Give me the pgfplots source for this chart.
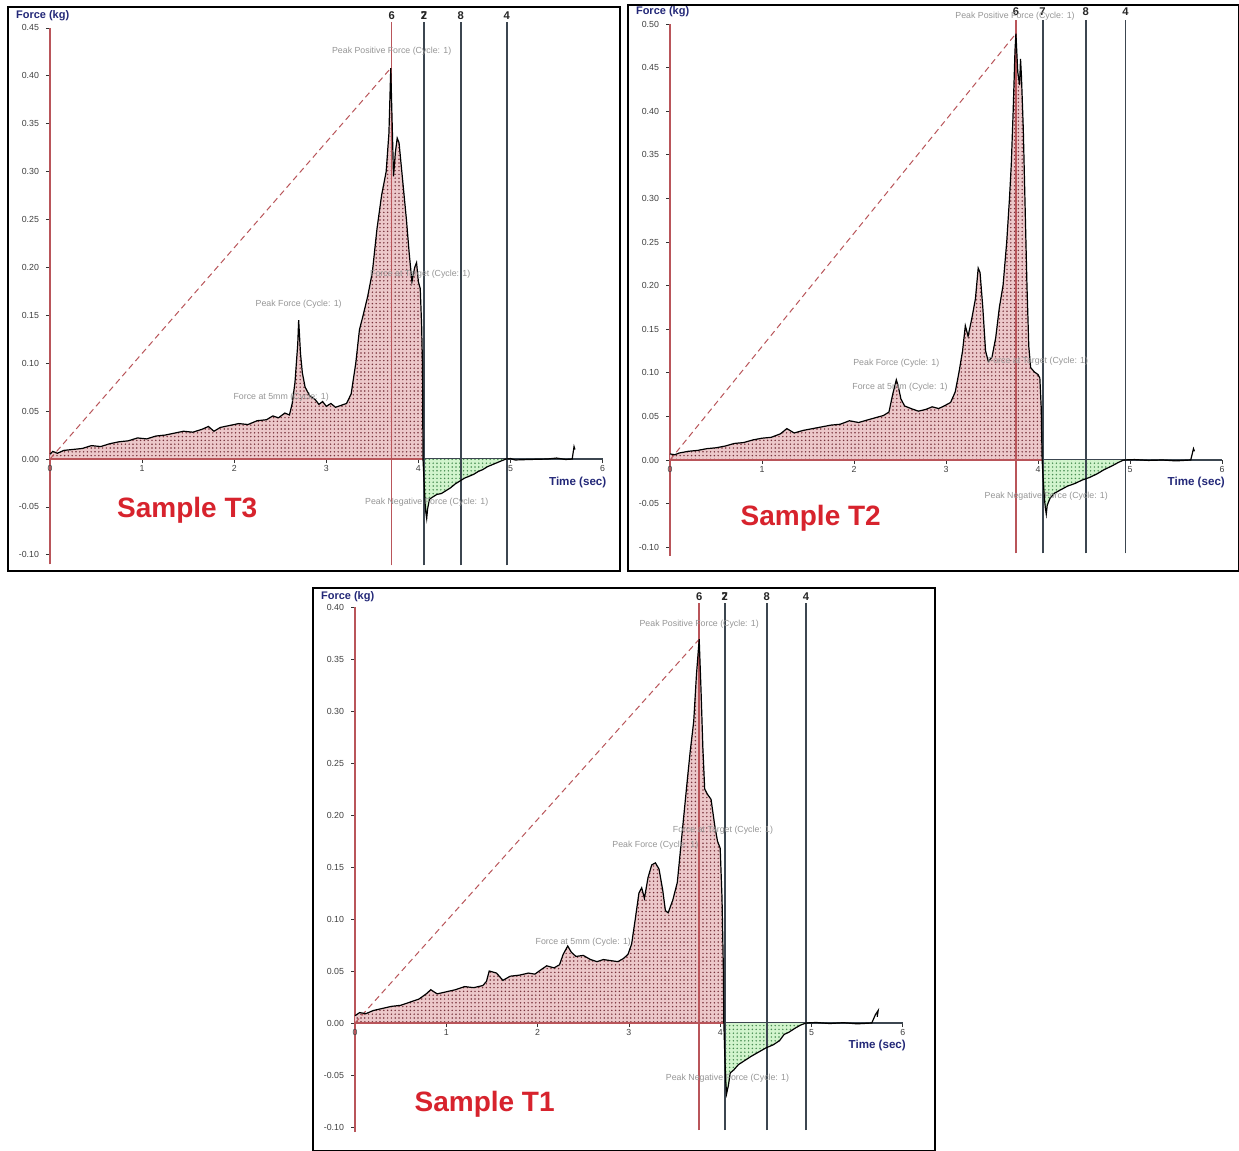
\documentclass[border=0pt]{standalone}
\usepackage{fontspec}
\setmainfont{Liberation Sans}
\usepackage{pgfplots}
\pgfplotsset{compat=1.18}
\usepackage{pgfplotstable}
\usetikzlibrary{patterns.meta}

\definecolor{pinkfill}{RGB}{236,200,202}
\definecolor{pinkdot}{RGB}{120,50,60}
\definecolor{greenfill}{RGB}{210,244,205}
\definecolor{greendot}{RGB}{70,140,80}
\definecolor{axred}{RGB}{185,85,90}
\definecolor{cursor}{RGB}{60,70,80}
\definecolor{annot}{RGB}{150,150,150}
\definecolor{navy}{RGB}{35,40,120}
\definecolor{samplered}{RGB}{215,35,45}

% ---------- Sample T3 ----------
\pgfplotstableread{
x y
0 0.005
0.03 0.008
0.08 0.006
0.15 0.009
0.25 0.010
0.35 0.011
0.45 0.014
0.55 0.013
0.65 0.016
0.75 0.018
0.85 0.019
0.95 0.022
1.05 0.021
1.15 0.024
1.25 0.025
1.35 0.027
1.45 0.029
1.55 0.028
1.65 0.031
1.72 0.034
1.78 0.029
1.85 0.033
1.95 0.035
2.05 0.037
2.15 0.036
2.25 0.040
2.35 0.041
2.42 0.045
2.48 0.043
2.55 0.048
2.60 0.046
2.63 0.058
2.66 0.080
2.69 0.120
2.70 0.145
2.72 0.110
2.74 0.090
2.77 0.075
2.82 0.066
2.88 0.062
2.92 0.057
2.96 0.060
3.00 0.055
3.05 0.058
3.10 0.054
3.16 0.056
3.22 0.058
3.27 0.068
3.32 0.100
3.36 0.135
3.40 0.150
3.45 0.170
3.50 0.195
3.55 0.240
3.60 0.275
3.65 0.300
3.68 0.340
3.70 0.408
3.71 0.370
3.73 0.295
3.75 0.320
3.77 0.335
3.79 0.330
3.83 0.290
3.87 0.250
3.90 0.215
3.93 0.185
3.96 0.200
3.98 0.205
4.00 0.185
4.02 0.178
4.035 0.140
4.045 0.095
4.05 0.0
}\posA
\pgfplotstableread{
x y
4.05 0
4.06 -0.020
4.07 -0.040
4.08 -0.055
4.09 -0.062
4.10 -0.052
4.12 -0.042
4.15 -0.040
4.20 -0.037
4.25 -0.036
4.30 -0.033
4.35 -0.030
4.40 -0.026
4.45 -0.023
4.50 -0.020
4.55 -0.018
4.60 -0.016
4.65 -0.013
4.70 -0.011
4.75 -0.008
4.80 -0.006
4.85 -0.004
4.90 -0.002
4.95 0.0
}\negA
\pgfplotstableread{
x y
4.95 0
5.00 0.0005
5.05 -0.001
5.20 -0.0005
5.40 0.0
5.50 0.001
5.60 -0.0005
5.67 0
5.69 0.013
5.70 0.010
}\tailA

% ---------- Sample T2 ----------
\pgfplotstableread{
x y
0 0.007
0.05 0.006
0.10 0.008
0.2 0.010
0.3 0.011
0.4 0.013
0.5 0.014
0.6 0.016
0.7 0.019
0.8 0.020
0.9 0.023
1.0 0.025
1.1 0.026
1.2 0.030
1.27 0.036
1.35 0.031
1.45 0.034
1.55 0.036
1.65 0.038
1.75 0.040
1.85 0.041
1.95 0.045
2.05 0.043
2.15 0.046
2.25 0.049
2.32 0.051
2.38 0.055
2.42 0.075
2.46 0.092
2.48 0.085
2.51 0.070
2.55 0.062
2.62 0.059
2.70 0.056
2.78 0.058
2.85 0.061
2.92 0.059
2.98 0.062
3.05 0.066
3.10 0.078
3.14 0.100
3.18 0.125
3.21 0.154
3.24 0.142
3.28 0.162
3.32 0.185
3.35 0.220
3.37 0.215
3.40 0.175
3.43 0.125
3.46 0.113
3.50 0.118
3.54 0.140
3.58 0.175
3.62 0.200
3.66 0.250
3.69 0.300
3.71 0.340
3.73 0.400
3.75 0.470
3.76 0.489
3.78 0.445
3.80 0.430
3.81 0.460
3.82 0.440
3.84 0.380
3.86 0.290
3.88 0.200
3.90 0.130
3.92 0.106
3.96 0.101
4.00 0.098
4.02 0.094
4.035 0.060
4.045 0.0
}\posB
\pgfplotstableread{
x y
4.045 0
4.055 -0.020
4.07 -0.045
4.08 -0.055
4.09 -0.062
4.10 -0.052
4.13 -0.044
4.18 -0.038
4.25 -0.034
4.32 -0.030
4.40 -0.027
4.48 -0.023
4.56 -0.020
4.64 -0.016
4.72 -0.011
4.80 -0.007
4.87 -0.003
4.93 0
}\negB
\pgfplotstableread{
x y
4.93 0
5.05 0.0005
5.20 -0.0005
5.35 0.0
5.50 -0.001
5.66 0
5.69 0.013
5.70 0.010
}\tailB

% ---------- Sample T1 ----------
\pgfplotstableread{
x y
0 0.007
0.05 0.010
0.12 0.009
0.2 0.012
0.3 0.014
0.4 0.016
0.5 0.017
0.6 0.020
0.7 0.023
0.78 0.028
0.83 0.032
0.9 0.028
1.0 0.030
1.1 0.032
1.2 0.035
1.3 0.034
1.4 0.036
1.44 0.040
1.47 0.050
1.55 0.048
1.62 0.041
1.70 0.045
1.80 0.046
1.90 0.048
1.97 0.047
2.05 0.052
2.10 0.055
2.18 0.053
2.24 0.056
2.28 0.066
2.33 0.074
2.37 0.068
2.42 0.064
2.50 0.065
2.58 0.061
2.65 0.059
2.72 0.061
2.80 0.060
2.88 0.059
2.94 0.062
2.99 0.066
3.03 0.076
3.07 0.100
3.11 0.125
3.14 0.130
3.17 0.120
3.21 0.140
3.25 0.152
3.29 0.154
3.33 0.148
3.37 0.128
3.40 0.108
3.43 0.106
3.48 0.118
3.53 0.135
3.58 0.180
3.63 0.225
3.67 0.260
3.71 0.290
3.74 0.335
3.77 0.369
3.79 0.320
3.81 0.265
3.83 0.225
3.86 0.220
3.90 0.215
3.94 0.190
3.97 0.175
4.00 0.168
4.02 0.120
4.035 0.050
4.04 0.0
}\posC
\pgfplotstableread{
x y
4.04 0
4.05 -0.030
4.06 -0.055
4.07 -0.068
4.09 -0.060
4.11 -0.048
4.15 -0.045
4.20 -0.040
4.27 -0.036
4.34 -0.032
4.42 -0.028
4.50 -0.024
4.58 -0.021
4.65 -0.017
4.70 -0.011
4.75 -0.009
4.82 -0.005
4.88 -0.002
4.94 0
}\negC
\pgfplotstableread{
x y
4.94 0
5.05 0.0005
5.20 -0.0005
5.35 0.0003
5.50 -0.0008
5.66 0
5.70 0.008
5.73 0.012
5.72 0.006
}\tailC

\pgfplotsset{ta/.style={
  axis x line*=middle, axis y line*=left,
  enlargelimits=false, clip=false,
  hide obscured x ticks=false,
  xmin=0, xmax=6, xtick={0,1,2,3,4,5,6},
  tick align=outside, major tick length=2pt,
  tick style={black!80, line width=0.4pt},
  ticklabel style={font=\fontsize{4.4}{5}\selectfont, text=black!75},
  /pgf/number format/assume math mode=true,
  yticklabel style={/pgf/number format/.cd, fixed, fixed zerofill, precision=2},
  xticklabel style={yshift=2.5pt, /pgf/number format/.cd, fixed, precision=0},
  y axis line style={axred, line width=0.8pt},
  x axis line style={cursor, line width=0.6pt},
  anchor=south west,
},
dotsP/.style={draw=none, pattern={Dots[distance=1.9pt, radius=0.42pt]}, pattern color=pinkdot},
dotsG/.style={draw=none, pattern={Dots[distance=1.9pt, radius=0.42pt]}, pattern color=greendot},
redcur/.style={axred, line width=0.8pt},
graycur/.style={cursor, line width=0.9pt},
}
\tikzset{
ann/.style={font=\fontsize{4.4}{5}\selectfont, text=annot},
curnum/.style={font=\bfseries\fontsize{5.6}{6}\selectfont, text=black!85},
}

\begin{document}
\begin{tikzpicture}
\path[use as bounding box, fill=white] (0,0) rectangle (619.5pt,-575.5pt);
\draw[black, line width=0.75pt] (4pt,-3.5pt) rectangle (310pt,-285.5pt);
\draw[black, line width=0.75pt] (314pt,-2.5pt) rectangle (619.2pt,-285.5pt);
\draw[black, line width=0.75pt] (156.5pt,-294pt) rectangle (467.5pt,-575.2pt);

% ===== T3 =====
\begin{axis}[ta, at={(25pt,-282.2pt)}, x=46.05pt, y=479pt,
  ymin=-0.11, ymax=0.45,
  ytick={-0.10,-0.05,0,0.05,0.10,0.15,0.20,0.25,0.30,0.35,0.40,0.45}]
\addplot[draw=none, fill=pinkfill] table {\posA} \closedcycle;
\addplot[dotsP] table {\posA} \closedcycle;
\addplot[draw=none, fill=greenfill] table {\negA} \closedcycle;
\addplot[dotsG] table {\negA} \closedcycle;
\addplot[axred, line width=0.6pt] coordinates {(0,0) (4.05,0)};
\addplot[axred, densely dashed, line width=0.5pt] coordinates {(0,0) (3.70,0.408)};
\addplot[redcur] coordinates {(3.71,-0.111) (3.71,0.456)};
\addplot[graycur] coordinates {(4.06,-0.111) (4.06,0.456)};
\addplot[graycur] coordinates {(4.46,-0.111) (4.46,0.456)};
\addplot[graycur] coordinates {(4.96,-0.111) (4.96,0.456)};
\addplot[black, line width=0.6pt] table {\posA};
\addplot[black, line width=0.6pt] table {\negA};
\addplot[black, line width=0.6pt] table {\tailA};
\node[curnum] at (axis cs:3.71,0.463) {6};
\node[curnum] at (axis cs:4.06,0.463) {7};
\node[curnum] at (axis cs:4.06,0.463) {2};
\node[curnum] at (axis cs:4.46,0.463) {8};
\node[curnum] at (axis cs:4.96,0.463) {4};
\node[ann] at (axis cs:3.71,0.426) {Peak Positive Force (Cycle: 1)};
\node[ann] at (axis cs:2.70,0.162) {Peak Force (Cycle: 1)};
\node[ann] at (axis cs:2.51,0.065) {Force at 5mm (Cycle: 1)};
\node[ann] at (axis cs:4.02,0.193) {Force at Target (Cycle: 1)};
\node[ann] at (axis cs:4.09,-0.045) {Peak Negative Force (Cycle: 1)};
\node[anchor=west, font=\bfseries\fontsize{5.5}{6}\selectfont, text=navy] at (axis cs:-0.445,0.463) {Force (kg)};
\node[font=\bfseries\fontsize{5.8}{6}\selectfont, text=navy] at (axis cs:5.73,-0.024) {Time (sec)};
\node[font=\bfseries\fontsize{14}{16}\selectfont, text=samplered] at (axis cs:1.49,-0.054) {Sample T3};
\end{axis}

% ===== T2 =====
\begin{axis}[ta, at={(335pt,-277.96pt)}, x=46pt, y=436pt,
  ymin=-0.11, ymax=0.50,
  ytick={-0.10,-0.05,0,0.05,0.10,0.15,0.20,0.25,0.30,0.35,0.40,0.45,0.50}]
\addplot[draw=none, fill=pinkfill] table {\posB} \closedcycle;
\addplot[dotsP] table {\posB} \closedcycle;
\addplot[draw=none, fill=greenfill] table {\negB} \closedcycle;
\addplot[dotsG] table {\negB} \closedcycle;
\addplot[axred, line width=0.6pt] coordinates {(0,0) (4.045,0)};
\addplot[axred, densely dashed, line width=0.5pt] coordinates {(0,0) (3.76,0.489)};
\addplot[redcur] coordinates {(3.76,-0.107) (3.76,0.505)};
\addplot[graycur] coordinates {(4.05,-0.107) (4.05,0.505)};
\addplot[graycur] coordinates {(4.52,-0.107) (4.52,0.505)};
\addplot[graycur] coordinates {(4.95,-0.107) (4.95,0.505)};
\addplot[black, line width=0.6pt] table {\posB};
\addplot[black, line width=0.6pt] table {\negB};
\addplot[black, line width=0.6pt] table {\tailB};
\node[curnum] at (axis cs:3.76,0.514) {6};
\node[curnum] at (axis cs:4.05,0.514) {7};
\node[curnum] at (axis cs:4.52,0.514) {8};
\node[curnum] at (axis cs:4.95,0.514) {4};
\node[ann] at (axis cs:3.75,0.509) {Peak Positive Force (Cycle: 1)};
\node[ann] at (axis cs:2.46,0.111) {Peak Force (Cycle: 1)};
\node[ann] at (axis cs:2.50,0.083) {Force at 5mm (Cycle: 1)};
\node[ann] at (axis cs:4.00,0.113) {Force at Target (Cycle: 1)};
\node[ann] at (axis cs:4.09,-0.042) {Peak Negative Force (Cycle: 1)};
\node[anchor=west, font=\bfseries\fontsize{5.5}{6}\selectfont, text=navy] at (axis cs:-0.446,0.514) {Force (kg)};
\node[font=\bfseries\fontsize{5.8}{6}\selectfont, text=navy] at (axis cs:5.72,-0.026) {Time (sec)};
\node[font=\bfseries\fontsize{14}{16}\selectfont, text=samplered] at (axis cs:1.53,-0.0665) {Sample T2};
\end{axis}

% ===== T1 =====
\begin{axis}[ta, at={(177.5pt,-566.1pt)}, x=45.65pt, y=520pt,
  ymin=-0.105, ymax=0.40,
  ytick={-0.10,-0.05,0,0.05,0.10,0.15,0.20,0.25,0.30,0.35,0.40}]
\addplot[draw=none, fill=pinkfill] table {\posC} \closedcycle;
\addplot[dotsP] table {\posC} \closedcycle;
\addplot[draw=none, fill=greenfill] table {\negC} \closedcycle;
\addplot[dotsG] table {\negC} \closedcycle;
\addplot[axred, line width=0.6pt] coordinates {(0,0) (4.04,0)};
\addplot[axred, densely dashed, line width=0.5pt] coordinates {(0,0) (3.77,0.369)};
\addplot[redcur] coordinates {(3.77,-0.103) (3.77,0.404)};
\addplot[graycur] coordinates {(4.05,-0.103) (4.05,0.404)};
\addplot[graycur] coordinates {(4.51,-0.103) (4.51,0.404)};
\addplot[graycur] coordinates {(4.94,-0.103) (4.94,0.404)};
\addplot[black, line width=0.6pt] table {\posC};
\addplot[black, line width=0.6pt] table {\negC};
\addplot[black, line width=0.6pt] table {\tailC};
\node[curnum] at (axis cs:3.77,0.41) {6};
\node[curnum] at (axis cs:4.05,0.41) {7};
\node[curnum] at (axis cs:4.05,0.41) {2};
\node[curnum] at (axis cs:4.51,0.41) {8};
\node[curnum] at (axis cs:4.94,0.41) {4};
\node[ann] at (axis cs:3.77,0.383) {Peak Positive Force (Cycle: 1)};
\node[ann] at (axis cs:3.29,0.171) {Peak Force (Cycle: 1)};
\node[ann] at (axis cs:2.50,0.078) {Force at 5mm (Cycle: 1)};
\node[ann] at (axis cs:4.03,0.185) {Force at Target (Cycle: 1)};
\node[ann] at (axis cs:4.08,-0.053) {Peak Negative Force (Cycle: 1)};
\node[anchor=west, font=\bfseries\fontsize{5.5}{6}\selectfont, text=navy] at (axis cs:-0.449,0.41) {Force (kg)};
\node[font=\bfseries\fontsize{5.8}{6}\selectfont, text=navy] at (axis cs:5.72,-0.022) {Time (sec)};
\node[font=\bfseries\fontsize{14}{16}\selectfont, text=samplered] at (axis cs:1.42,-0.078) {Sample T1};
\end{axis}
\end{tikzpicture}
\end{document}
